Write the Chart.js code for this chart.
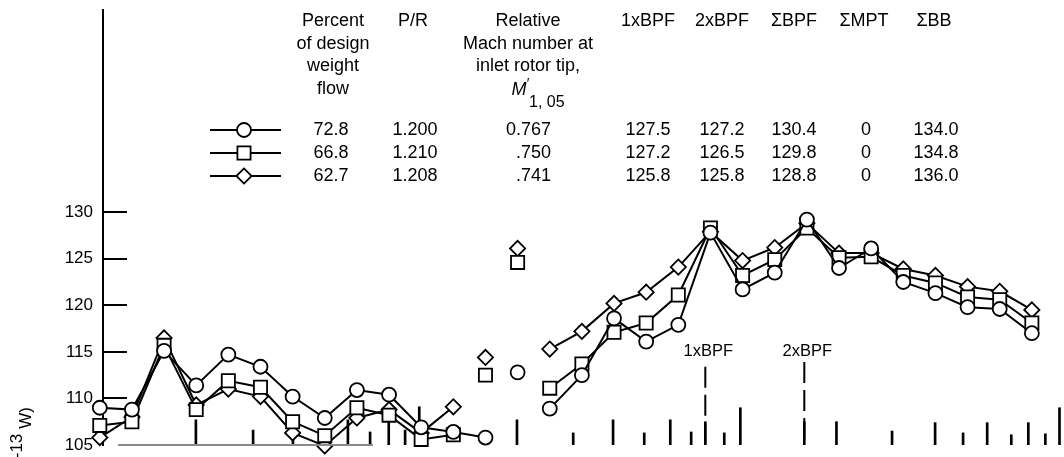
<!DOCTYPE html>
<html>
<head>
<meta charset="utf-8">
<script src="https://cdn.jsdelivr.net/npm/chart.js@4.4.1/dist/chart.umd.min.js"></script>
<style>
  html, body { margin: 0; padding: 0; background: #fff; }
  #wrap { width: 1064px; height: 457px; position: relative; }
</style>
</head>
<body>
<div id="wrap"><canvas id="c" width="1064" height="457"></canvas></div>
<script>
// One-third-octave band numbers (x positions of the band levels)
const bandNo = [1, 2, 3, 4, 5, 6, 7, 8, 9, 10, 11, 12, 13, 14, 15,
                16, 17, 18, 19, 20, 21, 22, 23, 24, 25, 26, 27, 28, 29, 30];

// Sound power level per band, dB, for each weight-flow setting
const pwl728 = [109.0, 108.8, 115.1, 111.4, 114.7, 113.4, 110.2, 107.9, 110.9, 110.4,
                106.9, 106.4, 105.8, 112.8, 108.9, 112.5, 118.6, 116.1, 117.9, 127.8,
                121.7, 123.5, 129.2, 124.0, 126.1, 122.5, 121.3, 119.8, 119.6, 117.0];
const pwl668 = [107.1, 107.5, 115.7, 108.8, 111.9, 111.2, 107.5, 106.0, 109.0, 108.2,
                105.6, 106.1, 112.5, 124.6, 111.1, 113.7, 117.1, 118.1, 121.1, 128.3,
                123.2, 124.9, 128.3, 125.1, 125.2, 123.2, 122.4, 120.9, 120.6, 118.1];
const pwl627 = [105.8, 108.0, 116.5, 109.3, 111.0, 110.2, 106.3, 104.9, 107.9, 108.8,
                106.3, 109.1, 114.4, 126.1, 115.3, 117.2, 120.2, 121.4, 124.1, 127.9,
                124.8, 126.2, 128.8, 125.6, 125.6, 123.9, 123.2, 122.0, 121.5, 119.5];

// Indices where the connecting line to the next band is left out
const gaps728 = [12, 13];
const gaps668 = [11, 12, 13];
const gaps627 = [11, 12, 13];

// Narrowband tone lines (position in band units, level in dB)
const toneBand  = [3.99, 5.77, 7.01, 8.72, 9.41, 9.99, 10.50, 10.94, 13.98, 15.73,
                   16.97, 17.94, 18.75, 19.40, 19.84, 20.43, 20.93, 22.92, 23.92, 25.65,
                   26.99, 27.86, 28.61, 29.36, 29.89, 30.42, 30.86];
const toneLevel = [107.7, 106.6, 106.1, 107.7, 106.4, 107.9, 106.6, 109.1, 107.7, 106.3,
                   107.7, 106.3, 107.7, 106.4, 107.5, 106.3, 109.0, 107.5, 107.5, 106.5,
                   107.4, 106.3, 107.4, 106.1, 107.4, 106.2, 109.0];

// Blade passing frequency harmonics
const bpfNames = ['1xBPF', '2xBPF'];
const bpfBand  = [19.84, 22.92];
const bpfTop   = [113.4, 113.9];
const bpfLabelLevel = 115.05;

// Y axis tick labels
const yTickValues = [105, 110, 115, 120, 125, 130];

// Key table
const keyStyles     = ['circle', 'rect', 'rectRot'];
const flowPercent   = ['72.8', '66.8', '62.7'];
const pressureRatio = ['1.200', '1.210', '1.208'];
const tipMach       = ['0.767', '.750', '.741'];
const level1xBpf    = ['127.5', '127.2', '125.8'];
const level2xBpf    = ['127.2', '126.5', '125.8'];
const levelSumBpf   = ['130.4', '129.8', '128.8'];
const levelSumMpt   = ['0', '0', '0'];
const levelSumBb    = ['134.0', '134.8', '136.0'];

const FONT = '"Liberation Sans", Arial, sans-serif';
const markerRadius = { circle: 7, rect: 9.3, rectRot: 7.6 };

function series(values, style, gaps) {
  return {
    type: 'line',
    data: values.map((v, i) => ({ x: bandNo[i], y: v })),
    borderColor: '#000',
    borderWidth: 2,
    backgroundColor: '#fff',
    pointStyle: style,
    pointRadius: markerRadius[style],
    pointBorderWidth: 1.8,
    pointBackgroundColor: '#fff',
    pointBorderColor: '#000',
    tension: 0,
    clip: false,
    segment: {
      borderColor: ctx => gaps.includes(ctx.p0DataIndex) ? 'rgba(0,0,0,0)' : '#000'
    }
  };
}

const datasets = [
  series(pwl728, 'circle', gaps728),
  series(pwl668, 'rect', gaps668),
  series(pwl627, 'rectRot', gaps627)
];

bpfBand.forEach((b, i) => {
  datasets.push({
    type: 'line',
    data: [{ x: b, y: bpfTop[i] }, { x: b, y: 105 }],
    borderColor: '#000',
    borderWidth: 2,
    borderDash: [21, 7],
    pointRadius: 0,
    clip: false
  });
});

datasets.push({
  type: 'bar',
  data: toneBand.map((b, i) => ({ x: b, y: [105, toneLevel[i]] })),
  backgroundColor: '#000',
  borderWidth: 0,
  barThickness: 2
});

function drawMarker(ctx, style, x, y) {
  const r = markerRadius[style];
  ctx.beginPath();
  if (style === 'circle') {
    ctx.arc(x, y, r, 0, Math.PI * 2);
  } else if (style === 'rect') {
    const s = r * Math.SQRT1_2;
    ctx.rect(x - s, y - s, 2 * s, 2 * s);
  } else {
    ctx.moveTo(x - r, y); ctx.lineTo(x, y - r); ctx.lineTo(x + r, y); ctx.lineTo(x, y + r);
    ctx.closePath();
  }
  ctx.fillStyle = '#fff';
  ctx.fill();
  ctx.lineWidth = 1.8;
  ctx.strokeStyle = '#000';
  ctx.stroke();
}

const annotations = {
  id: 'annotations',
  afterDraw(chart) {
    const ctx = chart.ctx;
    const xs = chart.scales.x, ys = chart.scales.y;
    ctx.save();
    ctx.fillStyle = '#000';
    ctx.strokeStyle = '#000';
    ctx.textBaseline = 'middle';

    // inward tick marks on the level axis
    ctx.lineWidth = 2;
    yTickValues.forEach(v => {
      if (v === 105) return;
      const y = Math.round(ys.getPixelForValue(v));
      ctx.beginPath();
      ctx.moveTo(ys.right, y);
      ctx.lineTo(ys.right + 24, y);
      ctx.stroke();
    });

    // short base line at the lowest level
    ctx.strokeStyle = '#8a8a8a';
    ctx.beginPath();
    const by = ys.getPixelForValue(105);
    ctx.moveTo(xs.getPixelForValue(1.57), by);
    ctx.lineTo(xs.getPixelForValue(9.5), by);
    ctx.stroke();
    ctx.strokeStyle = '#000';

    // harmonic labels
    ctx.font = '16.5px ' + FONT;
    ctx.textAlign = 'center';
    bpfNames.forEach((n, i) => {
      ctx.fillText(n, xs.getPixelForValue(bpfBand[i]) + 3, ys.getPixelForValue(bpfLabelLevel));
    });

    // key table header
    ctx.font = '18px ' + FONT;
    const hdr = [
      [333, ['Percent', 'of design', 'weight', 'flow']],
      [413, ['P/R']],
      [528, ['Relative', 'Mach number at', 'inlet rotor tip,']],
      [648, ['1xBPF']],
      [722, ['2xBPF']],
      [794, ['\u03A3BPF']],
      [864, ['\u03A3MPT']],
      [934, ['\u03A3BB']]
    ];
    const hdrY = [21, 44, 66, 89];
    hdr.forEach(([x, lines]) => lines.forEach((t, k) => ctx.fillText(t, x, hdrY[k])));

    // M'1,05
    ctx.font = 'italic 18px ' + FONT;
    ctx.fillText('M', 519, 90);
    ctx.font = '14px ' + FONT;
    ctx.fillText('\u2032', 528, 84);
    ctx.font = '16px ' + FONT;
    ctx.textAlign = 'left';
    ctx.fillText('1, 05', 529, 103);

    // key rows
    const rowY = [130, 153, 176];
    ctx.font = '18px ' + FONT;
    rowY.forEach((y, i) => {
      ctx.lineWidth = 2;
      ctx.beginPath();
      ctx.moveTo(210, y);
      ctx.lineTo(281, y);
      ctx.stroke();
      drawMarker(ctx, keyStyles[i], 244, y);
      ctx.fillStyle = '#000';
      ctx.textAlign = 'center';
      ctx.fillText(flowPercent[i], 331, y);
      ctx.fillText(pressureRatio[i], 415, y);
      ctx.textAlign = 'right';
      ctx.fillText(tipMach[i], 551, y);
      ctx.textAlign = 'center';
      ctx.fillText(level1xBpf[i], 648, y);
      ctx.fillText(level2xBpf[i], 722, y);
      ctx.fillText(levelSumBpf[i], 794, y);
      ctx.fillText(levelSumMpt[i], 866, y);
      ctx.fillText(levelSumBb[i], 936, y);
    });

    // level axis title (reads bottom to top)
    ctx.translate(26, 407);
    ctx.rotate(-Math.PI / 2);
    ctx.font = '17px ' + FONT;
    ctx.textAlign = 'right';
    let pos = 0;
    ctx.fillText('W)', pos, 0);
    pos -= ctx.measureText('W)').width + 5;
    ctx.fillText('-13', pos, -9);
    pos -= ctx.measureText('-13').width;
    ctx.fillText('Sound power level, dB (re 10', pos, 0);
    ctx.restore();
  }
};

new Chart(document.getElementById('c'), {
  type: 'line',
  data: { datasets },
  options: {
    responsive: false,
    animation: false,
    devicePixelRatio: 1,
    layout: { autoPadding: false, padding: { top: 10, bottom: 12, left: 0, right: 0 } },
    plugins: { legend: { display: false }, tooltip: { enabled: false } },
    scales: {
      x: {
        type: 'linear', min: 1.1, max: 31.0, display: false, offset: false,
        ticks: { display: false }
      },
      y: {
        type: 'linear', min: 105, max: 151.7, position: 'left',
        afterFit: s => { s.width = 103; s.paddingTop = 0; s.paddingBottom = 0; },
        afterBuildTicks: s => { s.ticks = yTickValues.map(v => ({ value: v })); },
        grid: { display: false, drawTicks: false },
        border: { display: true, color: '#000', width: 2 },
        ticks: { color: '#000', font: { family: FONT, size: 17 }, padding: 10 }
      }
    }
  },
  plugins: [annotations]
});
</script>
</body>
</html>
